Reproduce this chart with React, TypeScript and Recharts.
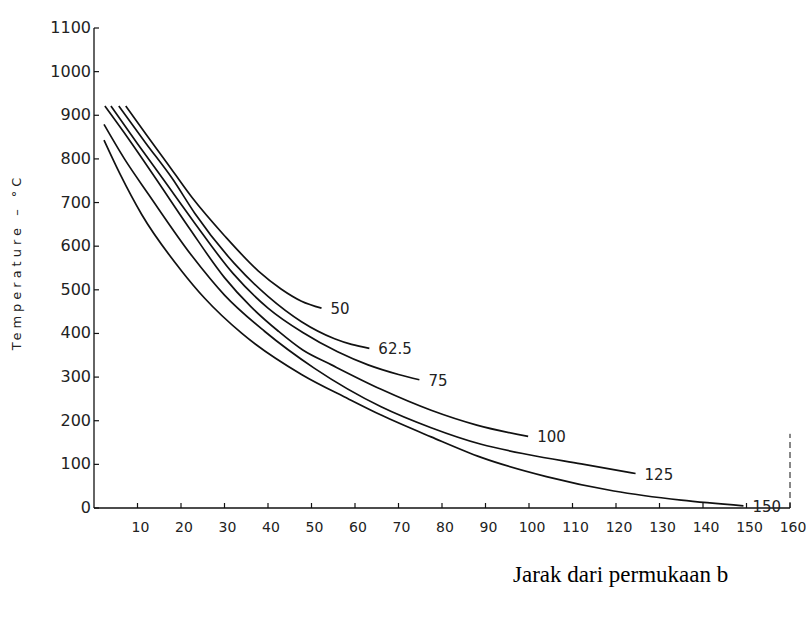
import { LineChart, Line, XAxis, YAxis, ReferenceLine } from 'recharts';

// distance from surface (x) and temperature (t) for each thickness curve
const curveNames = ['50', '62.5', '75', '100', '125', '150'];

const x50 = [7.3, 12, 16.7, 22.5, 30, 37.8, 43, 47.7, 52.3];
const t50 = [921, 856, 792, 712, 624, 543, 502, 474, 458];

const x62 = [5.7, 12, 18, 23.2, 32.3, 40, 47.7, 55.3, 59.2, 63.3];
const t62 = [921, 835, 755, 675, 560, 485, 427, 388, 375, 366];

const x75 = [3.9, 10, 16, 23, 32, 40, 48, 56, 63, 70, 74.8];
const t75 = [921, 835, 752, 655, 537, 458, 402, 358, 328, 306, 294];

const x100 = [2.5, 8, 14, 22, 30, 36, 42.4, 48, 54.6, 66, 77.5, 88, 99.8];
const t100 = [921, 845, 758, 640, 528, 462, 405, 362, 328, 272, 224, 190, 164];

const x125 = [2.3, 7, 12.6, 22.5, 30, 39.2, 50.7, 66, 77.5, 89, 100, 112, 124.5];
const t125 = [879, 800, 718, 578, 488, 405, 320, 232, 184, 146, 122, 101, 79];

const x150 = [2.3, 6, 11, 20, 25.5, 34, 47.7, 58.5, 66, 77.5, 89, 104, 119.5, 135, 149.3];
const t150 = [843, 765, 672, 545, 480, 400, 306, 250, 213, 163, 116, 72, 39, 18, 5];

const xTicks = [10, 20, 30, 40, 50, 60, 70, 80, 90, 100, 110, 120, 130, 140, 150, 160];
const yTicks = [0, 100, 200, 300, 400, 500, 600, 700, 800, 900, 1000, 1100];

const xs = [x50, x62, x75, x100, x125, x150];
const ts = [t50, t62, t75, t100, t125, t150];

const series = curveNames.map((name, i) => ({
  name,
  data: xs[i].map((x, j) => ({ x, t: ts[i][j] })),
}));

const ink = '#111';

function YTick(props: any) {
  const { x, y, payload } = props;
  return (
    <g>
      <line x1={x} y1={y} x2={x + 5} y2={y} stroke={ink} strokeWidth={1.2} />
      <text x={x - 3} y={y + 5} textAnchor="end" fontSize={16} fill="#222" fontFamily="DejaVu Sans">
        {payload.value}
      </text>
    </g>
  );
}

function XTick(props: any) {
  const { x, y, payload } = props;
  return (
    <g>
      <line x1={x} y1={y} x2={x} y2={y - 5} stroke={ink} strokeWidth={1.2} />
      <text x={x + 3} y={y + 24} textAnchor="middle" fontSize={14} fill="#222" fontFamily="DejaVu Sans">
        {payload.value}
      </text>
    </g>
  );
}

function endLabel(name: string, last: number) {
  return (props: any) => {
    if (props.index !== last) return <g />;
    return (
      <text x={props.x + 9} y={props.y + 6} fontSize={15} fill="#222" fontFamily="DejaVu Sans">
        {name}
      </text>
    );
  };
}

export default function App() {
  return (
    <div style={{ position: 'absolute', left: 0, top: 0, width: 806, height: 619, background: '#fff' }}>
      <LineChart width={806} height={619} margin={{ top: 28, right: 16, left: 0, bottom: 81 }}>
        <XAxis
          dataKey="x"
          type="number"
          domain={[0, 160]}
          ticks={xTicks}
          tickSize={0}
          tickMargin={0}
          tick={<XTick />}
          axisLine={{ stroke: ink, strokeWidth: 1.3 }}
          height={30}
          allowDataOverflow
        />
        <YAxis
          dataKey="t"
          type="number"
          domain={[0, 1100]}
          ticks={yTicks}
          tickSize={0}
          tickMargin={0}
          tick={<YTick />}
          axisLine={{ stroke: ink, strokeWidth: 1.3 }}
          width={94}
          interval={0}
        />
        <ReferenceLine
          segment={[{ x: 160, y: 0 }, { x: 160, y: 170 }]}
          stroke={ink}
          strokeDasharray="6 4"
          strokeWidth={1}
        />
        {series.map((s) => (
          <Line
            key={s.name}
            data={s.data}
            dataKey="t"
            type="monotone"
            stroke={ink}
            strokeWidth={1.7}
            dot={false}
            isAnimationActive={false}
            label={endLabel(s.name, s.data.length - 1)}
          />
        ))}
      </LineChart>
      <svg width={806} height={619} style={{ position: 'absolute', left: 0, top: 0, pointerEvents: 'none' }}>
        <text
          transform="translate(21,262) rotate(-90)"
          textAnchor="middle"
          fontSize={13}
          letterSpacing={4}
          fill="#222"
          fontFamily="DejaVu Sans"
        >
          Temperature  –  °C
        </text>
        <text x={513} y={582} fontSize={23} fill="#000" fontFamily="Liberation Serif">
          Jarak dari permukaan b
        </text>
      </svg>
    </div>
  );
}
